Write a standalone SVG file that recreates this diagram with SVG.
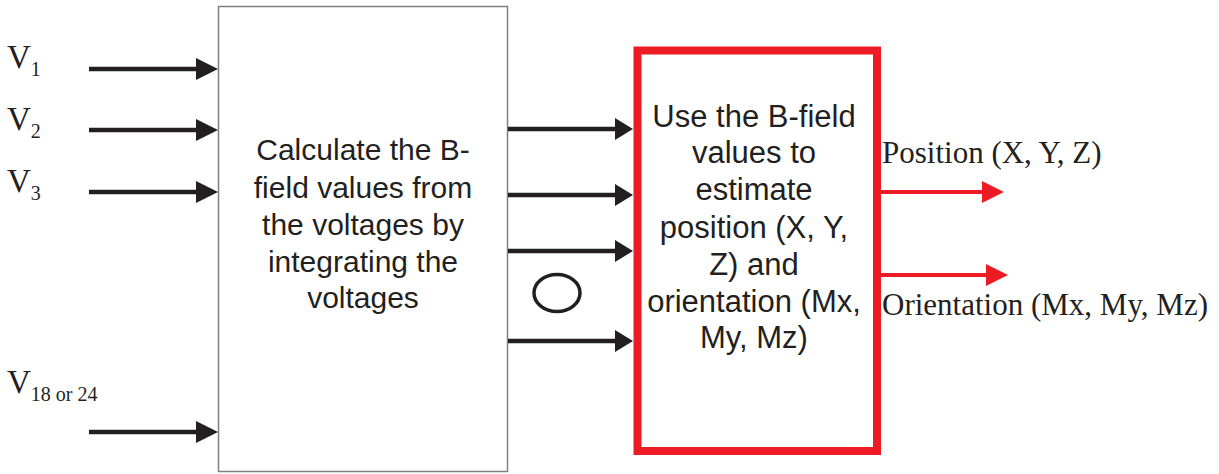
<svg xmlns="http://www.w3.org/2000/svg" width="1219" height="474" viewBox="0 0 1219 474">
<style>
.sans{font-family:"Liberation Sans",Arial,sans-serif;fill:#231f20;text-anchor:middle}
.s1{font-size:30px}
.s2{font-size:31px}
.serif{font-family:"Liberation Serif","Times New Roman",serif;fill:#231f20}
.v{font-size:33px}
.sub{font-size:20px}
.lbl{font-size:31px}
.blk{stroke:#231f20;stroke-width:4.5;fill:none}
.red{stroke:#ed1c24;stroke-width:4;fill:none}
</style>
<defs>
<marker id="ab" markerUnits="userSpaceOnUse" markerWidth="22" markerHeight="22" refX="0" refY="11" orient="auto" overflow="visible">
<path d="M0,0 L22,11 L0,22 Z" fill="#231f20"/>
</marker>
<marker id="ab2" markerUnits="userSpaceOnUse" markerWidth="18" markerHeight="22" refX="0" refY="11" orient="auto" overflow="visible">
<path d="M0,0 L18,11 L0,22 Z" fill="#231f20"/>
</marker>
<marker id="ar" markerUnits="userSpaceOnUse" markerWidth="22" markerHeight="22" refX="0" refY="11" orient="auto" overflow="visible">
<path d="M0,0 L22,11 L0,22 Z" fill="#ed1c24"/>
</marker>
</defs>
<g id="inputs">
<text class="serif v" x="7" y="68">V<tspan class="sub" y="76">1</tspan></text>
<text class="serif v" x="7" y="130">V<tspan class="sub" y="138">2</tspan></text>
<text class="serif v" x="7" y="192">V<tspan class="sub" y="200">3</tspan></text>
<text class="serif v" x="7" y="393">V<tspan class="sub" y="401">18 or 24</tspan></text>
</g>
<g id="calc">
<rect x="218.5" y="6.5" width="289" height="465" fill="#fff" stroke="#808080" stroke-width="1.5"/>
<text class="sans s1"><tspan x="363" y="160">Calculate the B-</tspan><tspan x="363" y="198">field values from</tspan><tspan x="363" y="235">the voltages by</tspan><tspan x="363" y="272">integrating the</tspan><tspan x="363" y="308">voltages</tspan></text>
</g>
<g id="estimate">
<rect x="637.5" y="50.5" width="239.5" height="400.5" fill="#fff" stroke="#ed1c24" stroke-width="8"/>
<text class="sans s2"><tspan x="754" y="127">Use the B-field</tspan><tspan x="754" y="163">values to</tspan><tspan x="754" y="200">estimate</tspan><tspan x="754" y="238">position (X, Y,</tspan><tspan x="754" y="275">Z) and</tspan><tspan x="754" y="312">orientation (Mx,</tspan><tspan x="754" y="348">My, Mz)</tspan></text>
</g>
<g id="ellipsis">
<ellipse cx="557" cy="293" rx="23" ry="18.5" fill="none" stroke="#231f20" stroke-width="3.5"/>
</g>
<g id="outputs">
<text class="serif lbl" x="882" y="163">Position (X, Y, Z)</text>
<text class="serif lbl" x="882" y="315">Orientation (Mx, My, Mz)</text>
</g>
<g id="connectors">
<line class="blk" x1="89" y1="69" x2="196" y2="69" marker-end="url(#ab)"/>
<line class="blk" x1="89" y1="130" x2="196" y2="130" marker-end="url(#ab)"/>
<line class="blk" x1="89" y1="192" x2="196" y2="192" marker-end="url(#ab)"/>
<line class="blk" x1="89" y1="432" x2="196" y2="432" marker-end="url(#ab)"/>
<line class="blk" x1="508" y1="129" x2="615" y2="129" marker-end="url(#ab2)"/>
<line class="blk" x1="508" y1="195" x2="615" y2="195" marker-end="url(#ab2)"/>
<line class="blk" x1="508" y1="251" x2="615" y2="251" marker-end="url(#ab2)"/>
<line class="blk" x1="508" y1="341" x2="615" y2="341" marker-end="url(#ab2)"/>
<line class="red" x1="881" y1="192" x2="982" y2="192" marker-end="url(#ar)"/>
<line class="red" x1="881" y1="275" x2="986" y2="275" marker-end="url(#ar)"/>
</g>
</svg>
